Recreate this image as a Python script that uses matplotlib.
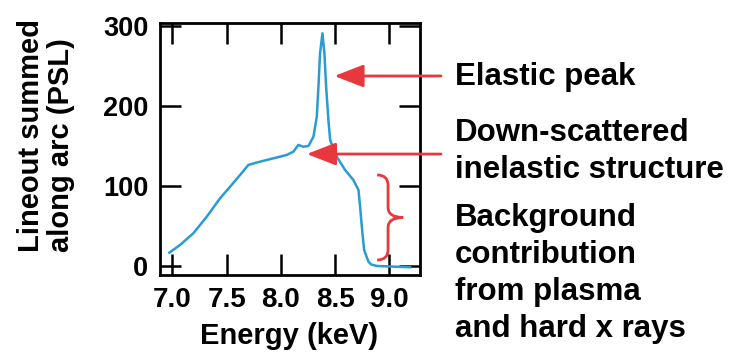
import numpy as np
import matplotlib
matplotlib.use("Agg")
import matplotlib.pyplot as plt
from matplotlib.path import Path
from matplotlib.patches import PathPatch

plt.rcParams['font.family'] = ['Liberation Sans', 'DejaVu Sans']
plt.rcParams['font.weight'] = 'bold'

# lineout (keV, PSL)
energy = [6.972, 7.071, 7.193, 7.317, 7.439, 7.532, 7.624, 7.700, 7.808, 7.931,
          8.054, 8.115, 8.161, 8.207, 8.254, 8.300, 8.331, 8.346, 8.361, 8.383,
          8.401, 8.417, 8.438, 8.454, 8.515, 8.592, 8.668, 8.715, 8.730, 8.746,
          8.767, 8.807, 8.832, 8.884, 9.191]
signal = [16.6, 26.3, 40.9, 61.6, 84.6, 99.1, 113.8, 126.3, 130.4, 134.6,
          138.8, 142.9, 151.3, 149.1, 150.0, 161.6, 186.6, 224.1, 265.9, 290.9,
          265.9, 224.1, 182.5, 157.5, 136.6, 120.0, 107.5, 95.0, 74.1, 49.1,
          20.0, 5.4, 1.9, 0.0, -1.6]

xticks = [7.0, 7.5, 8.0, 8.5, 9.0]
yticks = [0, 100, 200, 300]

labels = ["Elastic peak",
          "Down-scattered\ninelastic structure",
          "Background\ncontribution\nfrom plasma\nand hard x rays"]

blue = '#2a9bd3'
red = '#e8383e'

fig = plt.figure(figsize=(7.32, 3.55), dpi=100)
ax = fig.add_axes([0.218, 0.2254, 0.3559, 0.709])
ax.plot(energy, signal, color=blue, lw=1.8)
ax.set_xlim(6.882, 9.283)
ax.set_ylim(-11.25, 303.4)
ax.set_xticks(xticks)
ax.set_xticklabels(["%.1f" % v for v in xticks])
ax.set_yticks(yticks)
ax.tick_params(direction='in', length=15, width=1.8, labelsize=19.5, top=True, right=True)
ax.tick_params(axis='x', pad=8.5, labelsize=20)
ax.tick_params(axis='y', pad=8)
for s in ax.spines.values():
    s.set_linewidth(2)

fig.text(0.0628, 0.29, "Lineout summed\nalong arc (PSL)", rotation=90, ha='center', va='bottom',
         multialignment='left', fontsize=21, linespacing=1.08)
fig.text(0.395, 0.054, "Energy (keV)", ha='center', va='center', fontsize=21)

# arrows
ax.annotate('', xy=(8.493, 237.5), xytext=(0.6025, 0.786), textcoords='figure fraction',
            arrowprops=dict(arrowstyle='-|>,head_length=18,head_width=7', mutation_scale=1,
                            color=red, lw=2, shrinkA=0, shrinkB=0))
ax.annotate('', xy=(8.239, 140.0), xytext=(0.6025, 0.566), textcoords='figure fraction',
            arrowprops=dict(arrowstyle='-|>,head_length=18,head_width=7', mutation_scale=1,
                            color=red, lw=2, shrinkA=0, shrinkB=0))

# curly brace
x0, x1, y0, y1 = 8.887, 9.127, 7.5, 113.75
xm = x0 + (x1 - x0) * 0.42
ym = (y0 + y1) / 2
ry = (y1 - y0) * 0.12
verts = [(x0, y1), (xm, y1), (xm, y1 - ry), (xm, ym + ry), (xm, ym), (x1, ym),
         (xm, ym), (xm, ym - ry), (xm, y0 + ry), (xm, y0), (x0, y0)]
codes = [Path.MOVETO, Path.CURVE3, Path.CURVE3, Path.LINETO, Path.CURVE3, Path.CURVE3,
         Path.CURVE3, Path.CURVE3, Path.LINETO, Path.CURVE3, Path.CURVE3]
ax.add_patch(PathPatch(Path(verts, codes), fill=False, edgecolor=red, lw=2, clip_on=False))

# va='baseline' anchors the last line of a multi-line text
fig.text(0.6216, 0.7606, labels[0], ha='left', va='baseline', fontsize=22.5)
fig.text(0.6216, 0.4986, labels[1], ha='left', va='baseline', fontsize=22.5, linespacing=1.3)
fig.text(0.6216, 0.0515, labels[2], ha='left', va='baseline', fontsize=22.5, linespacing=1.3)

fig.savefig('out.png', dpi=100)
